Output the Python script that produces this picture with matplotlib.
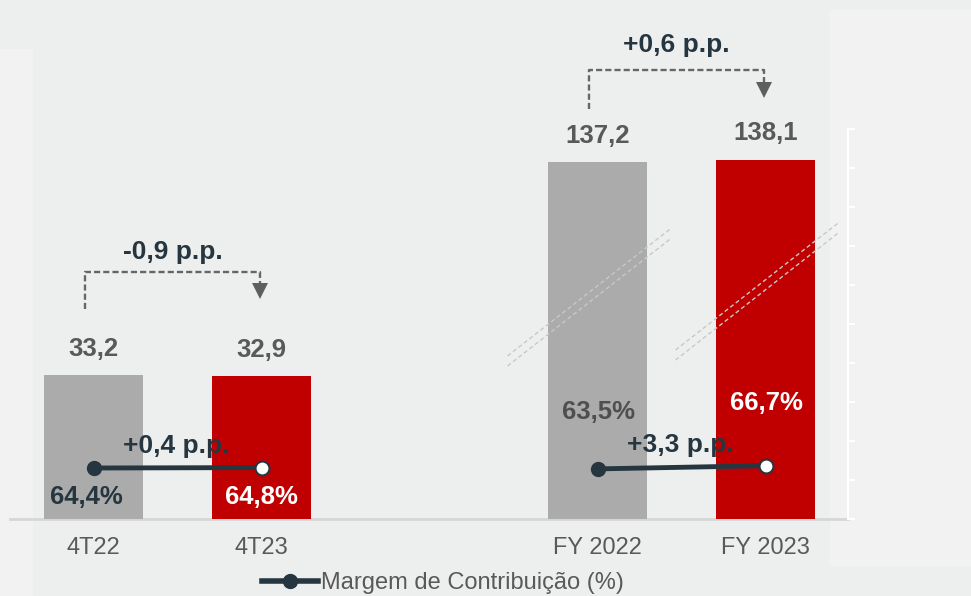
import matplotlib.pyplot as plt
from matplotlib.patches import Rectangle
from matplotlib.lines import Line2D
import numpy as np

periodos = ['4T22', '4T23', 'FY 2022', 'FY 2023']
receita = [33.2, 32.9, 137.2, 138.1]
margem = [64.4, 64.8, 63.5, 66.7]
var_receita = ['-0,9 p.p.', '+0,6 p.p.']
var_margem = ['+0,4 p.p.', '+3,3 p.p.']

pos = np.array([0, 1, 3, 4])
GRAY = '#ababab'
RED = '#c00000'
NAVY = '#263640'
TXT = '#595959'
BG = '#edefee'

W, H = 971, 596
BASE = 519  # baseline, px from top
XLIM = (-93.5 / 168, (W - 93.5) / 168)
RECT = [0, (H - BASE) / H, 1, BASE / H]

plt.rcParams['font.family'] = ['Liberation Sans', 'DejaVu Sans']
fig = plt.figure(figsize=(W / 100, H / 100), dpi=100, facecolor=BG)

# lighter background panels
fig.patches.append(Rectangle((0, 0), 32 / W, (H - 49) / H, transform=fig.transFigure,
                             color='#f2f2f2', zorder=-5))
fig.patches.append(Rectangle((830 / W, 31 / H), 1, 555 / H, transform=fig.transFigure,
                             color='#f2f2f2', zorder=-5))


def fmt(v, suf=''):
    return f'{v:.1f}'.replace('.', ',') + suf


def new_axes(ymin, ymax):
    ax = fig.add_axes(RECT)
    ax.set_xlim(XLIM)
    ax.set_ylim(ymin, ymax)
    ax.axis('off')
    ax.patch.set_visible(False)
    return ax


def bar_group(ymax, idx, label, bracket):
    ax = new_axes(0, ymax)
    k = ymax / BASE  # data units per pixel
    for i, c in zip(idx, [GRAY, RED]):
        ax.bar(pos[i], receita[i], width=0.59, color=c, zorder=2)
        ax.annotate(fmt(receita[i]), (pos[i], receita[i]), xytext=(0, 19),
                    textcoords='offset points', ha='center', va='center',
                    fontsize=18.5, fontweight='bold', color=TXT)
    top = max(receita[i] for i in idx)
    bot, hi, tip, txt = [top + p * k for p in bracket]
    x0, x1 = pos[idx[0]] - 0.05, pos[idx[1]] - 0.01
    ax.plot([x0, x0, x1, x1], [bot, hi, hi, tip + 14 * k], color='#666666', lw=1.7,
            dashes=(2.6, 1.3), zorder=3)
    ax.plot(x1, tip + 7 * k, marker='v', ms=11, color='#5e5e5e', mew=0, zorder=3)
    ax.text((x0 + x1) / 2, txt, label, ha='center', va='center', fontsize=19,
            fontweight='bold', color=NAVY)
    return ax, k


ax1, k1 = bar_group(BASE / 4.337, [0, 1], var_receita[0], (66, 103, 77, 123))
ax2, k2 = bar_group(BASE / 2.602, [2, 3], var_receita[1], (51, 90, 63, 115))

# broken-axis marks on the FY bars
for i, y0 in zip([2, 3], [153, 159]):
    for dy in (0, 10):
        ax2.plot([pos[i] - 90 / 168, pos[i] + 74 / 168],
                 [(y0 + dy) * k2, (y0 + dy + 128) * k2],
                 color='#c8c8c8', lw=1, dashes=(3, 2), zorder=4)

# baseline
ax1.axhline(0, xmin=10 / W, xmax=848 / W, color='#d6d6d6', lw=2, zorder=1,
            clip_on=False)

# x labels
for p, t in zip(pos, periodos):
    ax1.text(p, -29 / BASE, t, transform=ax1.get_xaxis_transform(), ha='center',
             va='center', fontsize=17, color=TXT)

# margin line
ax3 = new_axes(13.4, 13.4 + BASE)
pct_off = [(-5.4, -21), (0, -21), (1, 41), (1, 45)]
pct_col = [NAVY, 'white', '#4f4f4f', 'white']
for g, idx in enumerate([[0, 1], [2, 3]]):
    xs = pos[idx]
    ys = [margem[i] for i in idx]
    ax3.plot(xs, ys, color=NAVY, lw=3.5, zorder=5)
    ax3.plot(xs[0], ys[0], 'o', ms=10, color=NAVY, zorder=6)
    ax3.plot(xs[1], ys[1], 'o', ms=10, mfc='white', mec=NAVY, mew=1.5, zorder=6)
    ax3.annotate(var_margem[g], (xs.mean(), np.mean(ys)), xytext=(-1, 16),
                 textcoords='offset points', ha='center', va='center',
                 fontsize=19, fontweight='bold', color=NAVY, zorder=7)
    for i in idx:
        ax3.annotate(fmt(margem[i], '%'), (pos[i], margem[i]), xytext=pct_off[i],
                     textcoords='offset points', ha='center', va='center',
                     fontsize=18.5, fontweight='bold', color=pct_col[i], zorder=7)

# stray white axis on the right
axr = fig.add_axes([848 / W, (H - BASE) / H, 0.0001, 390 / H])
axr.patch.set_visible(False)
for s in ['top', 'bottom', 'left']:
    axr.spines[s].set_visible(False)
axr.spines['right'].set_color('white')
axr.spines['right'].set_linewidth(1.5)
axr.set_ylim(0, 10)
axr.set_yticks(range(11))
axr.set_xticks([])
axr.tick_params(axis='y', left=False, right=True, labelleft=False, direction='out',
                length=5, width=1.5, color='white')

handle = Line2D([], [], color=NAVY, lw=4, marker='o', ms=10)
fig.legend([handle], ['Margem de Contribuição (%)'], loc='center',
           bbox_to_anchor=(442.5 / W, 1 - 583 / H), frameon=False, fontsize=17,
           handlelength=2.4, handletextpad=0.1, borderpad=0, labelcolor=TXT)

fig.savefig('out.png', dpi=100, facecolor=BG)
